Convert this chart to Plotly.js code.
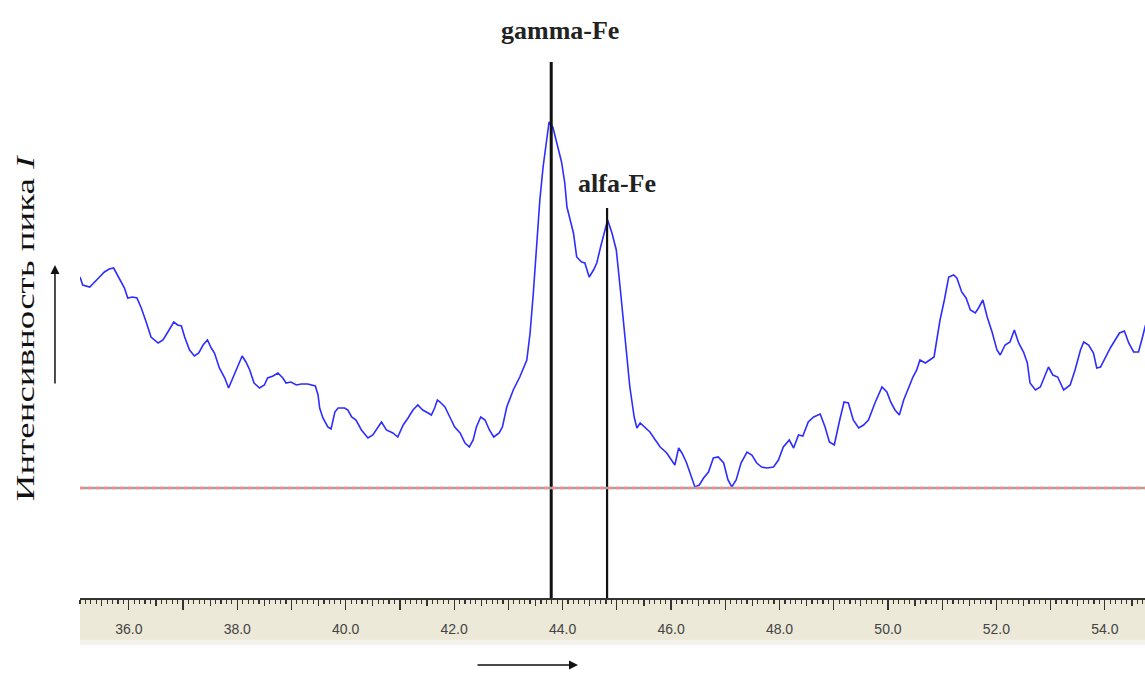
<!DOCTYPE html>
<html>
<head>
<meta charset="utf-8">
<script src="https://cdn.plot.ly/plotly-3.0.1.min.js"></script>
<style>html,body{margin:0;padding:0;background:#fff;}#chart{width:1145px;height:673px;}</style>
</head>
<body>
<div id="chart"></div>
<script>
// 2θ (degrees) of the scan
const twoTheta = [35.10,35.15,35.28,35.34,35.46,35.55,35.64,35.72,35.77,35.86,35.92,35.98,36.07,36.15,36.23,36.32,36.41,36.54,36.63,36.72,36.83,36.90,36.97,37.03,37.12,37.21,37.29,37.37,37.45,37.52,37.58,37.67,37.77,37.84,37.92,38.01,38.09,38.16,38.23,38.31,38.41,38.50,38.56,38.66,38.75,38.84,38.90,38.99,39.09,39.18,39.30,39.44,39.49,39.52,39.58,39.67,39.73,39.80,39.86,39.98,40.04,40.11,40.19,40.29,40.41,40.50,40.59,40.66,40.75,40.87,40.96,41.06,41.15,41.24,41.33,41.42,41.52,41.58,41.64,41.69,41.74,41.83,41.92,42.01,42.11,42.20,42.28,42.35,42.41,42.49,42.57,42.65,42.73,42.83,42.89,42.97,43.09,43.21,43.34,43.40,43.46,43.52,43.58,43.64,43.71,43.75,43.82,43.89,43.98,44.04,44.08,44.14,44.20,44.26,44.35,44.41,44.49,44.57,44.63,44.70,44.78,44.83,44.91,44.99,45.06,45.12,45.18,45.24,45.32,45.37,45.43,45.52,45.61,45.71,45.80,45.92,46.01,46.07,46.14,46.20,46.28,46.35,46.44,46.52,46.60,46.69,46.78,46.87,46.97,47.05,47.12,47.20,47.29,47.40,47.49,47.58,47.67,47.77,47.89,47.98,48.07,48.18,48.26,48.35,48.43,48.53,48.63,48.75,48.84,48.92,49.01,49.11,49.19,49.27,49.36,49.46,49.55,49.64,49.76,49.89,49.98,50.05,50.13,50.21,50.29,50.38,50.46,50.53,50.59,50.69,50.78,50.85,50.90,50.96,51.04,51.12,51.21,51.27,51.36,51.44,51.52,51.61,51.67,51.75,51.83,51.92,52.01,52.07,52.16,52.25,52.33,52.41,52.50,52.57,52.62,52.72,52.81,52.90,52.96,53.04,53.13,53.24,53.36,53.45,53.55,53.61,53.70,53.79,53.85,53.92,54.01,54.10,54.19,54.27,54.36,54.44,54.53,54.62,54.68,54.75];
// intensity (arbitrary units)
const intensity = [321,313,311,314,321,326,329,330,325,315,310,300,301,300,290,276,261,255,258,266,276,273,272,261,248,242,245,253,258,250,245,230,220,210,220,233,242,236,228,215,210,213,220,222,225,220,215,216,213,214,214,212,203,190,180,171,169,186,190,190,188,181,178,168,160,163,171,176,168,165,161,173,180,188,193,188,185,183,190,198,196,191,181,171,165,155,151,158,171,181,178,168,161,165,171,191,208,221,238,265,305,348,398,431,458,476,471,455,436,415,391,378,365,341,336,335,321,328,335,351,368,378,365,348,311,278,245,211,181,170,175,170,166,158,151,145,138,133,150,145,136,125,111,113,120,126,140,141,135,118,111,118,135,146,143,135,131,130,131,138,151,158,150,163,162,176,181,184,171,156,153,178,196,195,178,170,173,178,195,211,206,196,188,183,198,210,221,228,238,235,238,241,258,278,298,321,323,320,306,300,288,285,290,298,281,266,248,243,253,256,268,255,246,235,215,208,211,223,231,223,221,208,213,228,248,256,253,245,230,231,241,250,258,265,267,255,246,246,258,273];

// reference peak positions and marker heights
const peakNames = ['gamma-Fe', 'alfa-Fe'];
const peakPositions = [43.79, 44.82];
const peakMarkerHeights = [536, 390];
const peakLabelPos = [[43.95, 568], [45.00, 415]];
const backgroundLevel = 110;

// ruler ticks
const majorTicks = [36,37,38,39,40,41,42,43,44,45,46,47,48,49,50,51,52,53,54];
const majorTickText = ['36.0','','38.0','','40.0','','42.0','','44.0','','46.0','','48.0','','50.0','','52.0','','54.0'];

const xRange = [35.10, 54.74];
const yRange = [0, 598];

const traces = [
  {
    x: twoTheta, y: intensity, type: 'scatter', mode: 'lines',
    line: {color: 'rgb(45,45,255)', width: 1.6},
    hoverinfo: 'skip', showlegend: false
  }
];
peakPositions.forEach((p, i) => {
  traces.push({
    x: [p, p], y: [0, peakMarkerHeights[i]], type: 'scatter', mode: 'lines',
    xaxis: 'x2', yaxis: 'y',
    line: {color: '#111', width: i === 0 ? 3 : 2.2},
    hoverinfo: 'skip', showlegend: false
  });
});

const annotations = peakNames.map((n, i) => ({
  x: peakLabelPos[i][0], y: peakLabelPos[i][1], xref: 'x', yref: 'y',
  text: '<b>' + n + '</b>', showarrow: false,
  font: {family: 'Liberation Serif', size: 26, color: '#222'},
  xanchor: 'center', yanchor: 'middle'
}));
annotations.push({
  xref: 'paper', yref: 'paper', x: -0.0516, y: 0.4515,
  text: 'Интенсивность пика <i>I</i>', textangle: -90, showarrow: false,
  font: {family: 'Liberation Serif', size: 26, color: '#111'},
  xanchor: 'center', yanchor: 'middle'
});
// y arrow
annotations.push({
  xref: 'paper', yref: 'paper', x: -0.0235, y: 0.5569,
  text: '', showarrow: true, ax: 0, ay: 120, axref: 'pixel', ayref: 'pixel',
  arrowhead: 2, arrowsize: 1.2, arrowwidth: 1.5, arrowcolor: '#111'
});
// x arrow
annotations.push({
  xref: 'paper', yref: 'paper', x: 0.4676, y: -0.112,
  text: '', showarrow: true, ax: -102, ay: 0,
  arrowhead: 2, arrowsize: 1.2, arrowwidth: 1.5, arrowcolor: '#111'
});

const layout = {
  width: 1145, height: 673,
  margin: {l: 80, r: 0, t: 0, b: 75},
  paper_bgcolor: '#fff', plot_bgcolor: '#fff',
  showlegend: false,
  xaxis: {
    range: xRange, showgrid: false, zeroline: false,
    showline: true, linecolor: '#333', linewidth: 1.5,
    tickmode: 'array', tickvals: majorTicks, ticktext: majorTickText,
    ticks: 'outside', ticklen: 10, tickwidth: 1.2, tickcolor: '#333',
    ticklabelstandoff: 8,
    tickfont: {family: 'Liberation Sans', size: 14, color: '#444'},
    minor: {ticks: 'outside', dtick: 0.1, tick0: 35, ticklen: 4, tickwidth: 1.2, tickcolor: '#333', showgrid: false}
  },
  xaxis2: {
    matches: 'x', overlaying: 'x', anchor: 'y', side: 'bottom',
    showgrid: false, zeroline: false, showline: false,
    tickmode: 'linear', tick0: 35, dtick: 0.5,
    ticks: 'outside', ticklen: 7, tickwidth: 1.2, tickcolor: '#333',
    showticklabels: false
  },
  yaxis: {
    range: yRange, showgrid: false, zeroline: false, showline: false,
    showticklabels: false, ticks: ''
  },
  shapes: [
    {type: 'rect', xref: 'paper', yref: 'paper', x0: 0, x1: 1, y0: -0.0786, y1: 0,
     fillcolor: '#ece9d8', line: {width: 0}, layer: 'below'},
    {type: 'rect', xref: 'paper', yref: 'paper', x0: 0, x1: 1, y0: -0.0786, y1: -0.07,
     fillcolor: '#f4f2ea', line: {width: 0}, layer: 'below'},
    {type: 'line', xref: 'paper', yref: 'y', x0: 0, x1: 1, y0: backgroundLevel, y1: backgroundLevel,
     line: {color: 'rgb(170,160,160)', width: 2.4}},
    {type: 'line', xref: 'paper', yref: 'y', x0: 0, x1: 1, y0: backgroundLevel, y1: backgroundLevel,
     line: {color: 'rgb(245,140,140)', width: 2.4, dash: '4px,4px'}}
  ],
  annotations: annotations
};

Plotly.newPlot('chart', traces, layout, {displayModeBar: false, staticPlot: true}).then(() => {
  // the source picture is stretched vertically; stretch the rotated axis caption the same way
  document.querySelectorAll('#chart g.annotation').forEach(g => {
    const t = g.querySelector('.annotation-text');
    if (!t || t.textContent.indexOf('Интенсивность') !== 0) return;
    const svg = g.ownerSVGElement.getBoundingClientRect();
    const r = g.getBoundingClientRect();
    const cx = r.x + r.width / 2 - svg.x;
    const cy = r.y + r.height / 2 - svg.y;
    const k = 1.42;
    const prev = g.getAttribute('transform') || '';
    g.setAttribute('transform', `translate(${cx},${cy}) scale(1,${k}) translate(${-cx},${-cy}) ${prev}`);
  });
});
</script>
</body>
</html>
